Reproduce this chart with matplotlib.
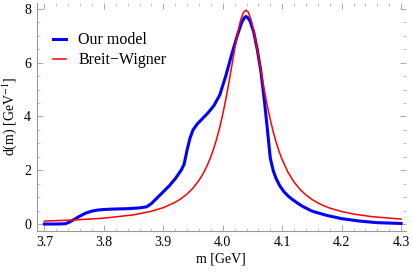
import numpy as np
import matplotlib
matplotlib.use("Agg")
import matplotlib.pyplot as plt
from matplotlib.ticker import MultipleLocator, FormatStrFormatter

# ---- data ----
m_model = [3.700, 3.720, 3.735, 3.742, 3.750, 3.760, 3.770, 3.780, 3.790, 3.800,
           3.820, 3.840, 3.860, 3.872, 3.880, 3.890, 3.900, 3.910, 3.920, 3.930,
           3.935, 3.940, 3.945, 3.950, 3.957, 3.965, 3.975, 3.985, 3.995, 4.005,
           4.015, 4.025, 4.032, 4.036, 4.039, 4.042, 4.046, 4.052, 4.058, 4.064,
           4.070, 4.075, 4.080, 4.085, 4.090, 4.096, 4.103, 4.110, 4.118, 4.127,
           4.135, 4.150, 4.175, 4.200, 4.230, 4.260, 4.300]
d_model = [0.00, 0.00, 0.01, 0.07, 0.17, 0.30, 0.41, 0.48, 0.52, 0.54,
           0.56, 0.57, 0.60, 0.64, 0.76, 0.98, 1.20, 1.42, 1.68, 2.00,
           2.22, 2.75, 3.20, 3.50, 3.72, 3.90, 4.13, 4.40, 4.80, 5.50,
           6.30, 7.05, 7.50, 7.66, 7.72, 7.68, 7.55, 7.15, 6.50, 5.70,
           4.60, 3.55, 2.45, 1.98, 1.68, 1.42, 1.20, 1.04, 0.90, 0.76,
           0.65, 0.48, 0.32, 0.20, 0.11, 0.05, 0.02]

m_bw = [3.70, 3.75, 3.80, 3.85, 3.88, 3.90, 3.92, 3.93, 3.94, 3.95,
        3.96, 3.965, 3.97, 3.975, 3.98, 3.985, 3.99, 3.995, 4.00, 4.005,
        4.01, 4.015, 4.02, 4.025, 4.03, 4.035, 4.039, 4.043, 4.048, 4.053,
        4.056, 4.06, 4.065, 4.07, 4.075, 4.08, 4.085, 4.09, 4.095, 4.10,
        4.11, 4.12, 4.13, 4.14, 4.15, 4.16, 4.17, 4.18, 4.20, 4.22,
        4.25, 4.30]
d_bw = [0.109, 0.150, 0.217, 0.341, 0.474, 0.609, 0.808, 0.944, 1.117, 1.337,
        1.624, 1.799, 2.002, 2.235, 2.506, 2.819, 3.182, 3.601, 4.080, 4.620,
        5.216, 5.851, 6.493, 7.089, 7.574, 7.879, 7.958, 7.879, 7.574, 7.089,
        6.740, 6.238, 5.594, 4.972, 4.396, 3.881, 3.426, 3.031, 2.688, 2.393,
        1.917, 1.560, 1.289, 1.079, 0.915, 0.784, 0.679, 0.593, 0.463, 0.371,
        0.276, 0.183]

plt.rcParams["font.family"] = ["Liberation Serif", "DejaVu Serif"]
plt.rcParams["mathtext.fontset"] = "stix"

fig = plt.figure(figsize=(4.12, 2.76), dpi=100)
ax = fig.add_axes([0.089, 0.164, 0.896, 0.825])

ax.plot(m_model, d_model, color="#0000ff", lw=2.2, label="Our model")
ax.plot(m_bw, d_bw, color="#ff0000", lw=1.1, label="Breit\u2212Wigner")

ax.set_xlim(3.687, 4.308)
ax.set_ylim(-0.25, 8.22)
ax.xaxis.set_major_locator(MultipleLocator(0.1))
ax.xaxis.set_minor_locator(MultipleLocator(0.02))
ax.yaxis.set_major_locator(MultipleLocator(2))
ax.yaxis.set_minor_locator(MultipleLocator(0.5))
ax.xaxis.set_major_formatter(FormatStrFormatter("%.1f"))

for s in ["top", "right"]:
    ax.spines[s].set_visible(False)
for s in ["left", "bottom"]:
    ax.spines[s].set_color("#999999")
    ax.spines[s].set_linewidth(0.8)

ax.tick_params(which="both", direction="in", top=True, right=True,
               color="#aaaaaa", labelsize=10, pad=4)
ax.tick_params(which="major", length=4, width=0.7)
ax.tick_params(which="minor", length=2, width=0.5)

ax.set_xlabel("m [GeV]", fontsize=10, labelpad=2)
ax.set_ylabel("d(m) [GeV$^{-1}$]", fontsize=10, labelpad=4)

ax.legend(loc="upper left", bbox_to_anchor=(0.005, 0.935), frameon=False,
          fontsize=11.5, handlelength=0.8, handletextpad=0.8, labelspacing=0.25)

fig.savefig("out.png", dpi=100)
